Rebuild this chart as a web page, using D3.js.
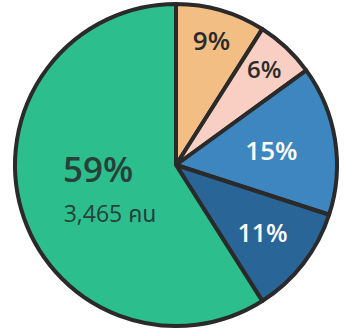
<!DOCTYPE html>
<html><head><meta charset="utf-8">
<script src="https://cdn.jsdelivr.net/npm/d3@7"></script>
<style>html,body{margin:0;padding:0;background:#fff;}svg{display:block;}</style>
</head><body>
<svg id="chart" width="345" height="332"></svg>
<script>
const categories = ["A", "B", "C", "D", "E"];
const values = [9, 6, 15, 11, 59];
const labels = ["9%", "6%", "15%", "11%", "59%"];
const subLabels = ["", "", "", "", "3,465 คน"];

const colors = ["#F2BE84", "#F8CFC2", "#3D86BF", "#2A6597", "#2CBF8D"];
const textColors = ["#2b2b2b", "#2b2b2b", "#ffffff", "#ffffff", "#27403a"];
const fontSizes = [26, 24, 26, 25, 35];
const labelRadius = [0.79, 0.8, 0.6, 0.68, 0.5];

const svg = d3.select("#chart");
const cx = 176, cy = 165, R = 161;
const g = svg.append("g").attr("transform", `translate(${cx},${cy})`);

const pie = d3.pie().sort(null).value(d => d.v);
const data = pie(categories.map((c, i) => ({c, v: values[i], i})));
const arc = d3.arc().innerRadius(0).outerRadius(R);

g.selectAll("path").data(data).enter().append("path")
  .attr("d", arc)
  .attr("fill", d => colors[d.data.i])
  .attr("stroke", "#2a2a2a")
  .attr("stroke-width", 4)
  .attr("stroke-linejoin", "round");

const font = "'Open Sans', 'Noto Sans', 'Noto Sans Thai', sans-serif";
data.forEach(d => {
  const i = d.data.i;
  const la = d3.arc().innerRadius(0).outerRadius(2 * R * labelRadius[i]);
  let [x, y] = la.centroid(d);
  if (i === 4) { y = 3; x = -78; }
  if (i < 2) y -= 3;
  g.append("text")
    .attr("x", x).attr("y", y)
    .attr("text-anchor", "middle")
    .attr("dominant-baseline", "central")
    .attr("font-family", font)
    .attr("font-weight", 600)
    .attr("font-size", fontSizes[i])
    .attr("fill", textColors[i])
    .text(labels[i]);
  if (subLabels[i]) {
    g.append("text")
      .attr("x", x + 12).attr("y", y + 45)
      .attr("text-anchor", "middle")
      .attr("dominant-baseline", "central")
      .attr("font-family", font)
      .attr("font-weight", 400)
      .attr("font-size", 23)
      .attr("fill", "#27403a")
      .text(subLabels[i]);
  }
});
</script>
</body></html>
